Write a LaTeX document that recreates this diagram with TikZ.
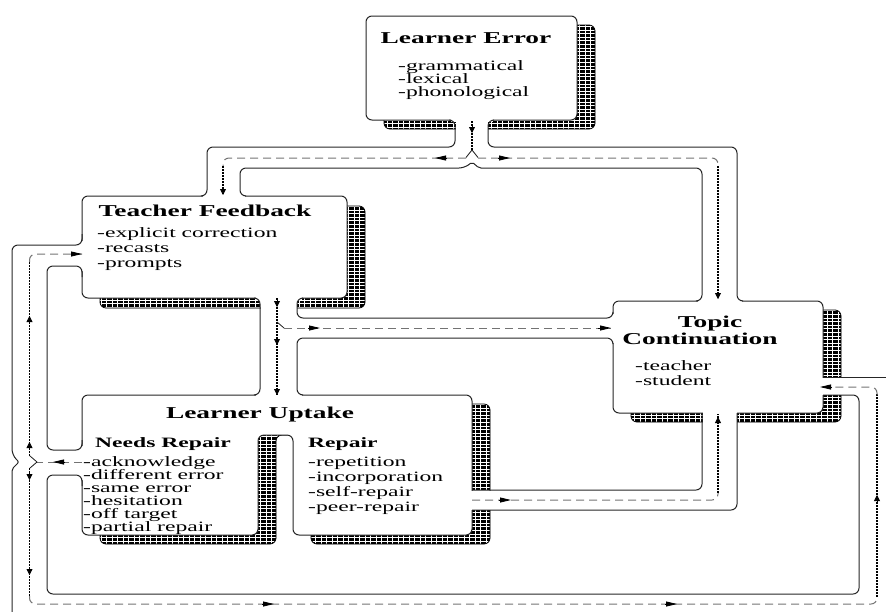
\documentclass[tikz,border=0pt]{standalone}
\usepackage{fontspec}
\setmainfont{Liberation Serif}[FakeStretch=1.65]
\usetikzlibrary{arrows.meta}
\begin{document}
\begin{tikzpicture}[x=1pt,y=-1pt,
  boxline/.style={draw=black!85,line width=1pt,fill=white,rounded corners=6pt},
  shadowline/.style={draw=black,line width=0.8pt,rounded corners=6pt},
  wall/.style={draw=black!85,line width=1pt,rounded corners=6pt},
  flowh/.style={draw=black!55,line width=1pt,dash pattern=on 8pt off 5pt},
  flowv/.style={draw=black,line width=1.1pt,dash pattern=on 1.6pt off 1.4pt},
  fork/.style={draw=black!90,line width=0.8pt},
  arrh/.style={-{Triangle[length=11pt,width=5pt]},line width=0.8pt,black},
  arrv/.style={-{Triangle[length=6pt,width=6pt]},line width=0.8pt,black},
  head/.style={font=\fontsize{16.6}{19}\selectfont\bfseries,inner sep=0pt,anchor=base},
  sub/.style={font=\fontsize{14.3}{16}\selectfont\bfseries,inner sep=0pt,anchor=base west},
  body/.style={font=\fontsize{14.3}{16}\selectfont,inner sep=0pt,anchor=base west},
]
\useasboundingbox (0,0) rectangle (886,611);

% ---------- shadows ----------
\begin{scope}
  \clip[rounded corners=6pt]
    (384,25) rectangle (595,129)
    (100,206) rectangle (365,308)
    (631,310) rectangle (841,422)
    (100,404) -- (490,404) -- (490,544) -- (311,544) -- (311,435) -- (276,435) -- (276,544) -- (100,544) -- cycle;
  \fill[black] (0,0) rectangle (886,611);
  \foreach \yy in {1,4.6,...,611} \draw[white,line width=0.4pt] (0,\yy) -- (886,\yy);
  \foreach \xx in {2,7.5,...,886} \draw[white,line width=0.4pt] (\xx,0) -- (\xx,611);
\end{scope}
\path[shadowline] (384,25) rectangle (595,129);
\path[shadowline] (100,206) rectangle (365,308);
\path[shadowline] (631,310) rectangle (841,422);
\path[shadowline] (100,404) -- (490,404) -- (490,544) -- (311,544) -- (311,435) -- (276,435) -- (276,544) -- (100,544) -- cycle;

% ---------- boxes ----------
\path[boxline] (366,16) rectangle (577,120);   % Learner Error
\path[boxline] (82,196) rectangle (347,298);   % Teacher Feedback
\path[boxline] (613,301) rectangle (823,413);  % Topic Continuation
\path[boxline] (82,395) -- (472,395) -- (472,535) -- (293,535) -- (293,435) -- (258,435) -- (258,535) -- (82,535) -- cycle; % Learner Uptake

% ---------- pipe mouths (erase edges / shadows) ----------
\fill[white] (450.5,118.5) rectangle (492.5,121.5);
\fill[white] (455.5,121) rectangle (487.5,131);
\fill[white] (202.5,194.5) rectangle (244.5,197.5);
\fill[white] (697.5,299.5) rectangle (741.5,302.5);
\fill[white] (80.5,240.5) rectangle (83.5,270.5);
\fill[white] (80.5,445.5) rectangle (83.5,479.5);
\fill[white] (255.5,296.5) rectangle (301.5,299.5);
\fill[white] (260.5,299) rectangle (296.5,312);
\fill[white] (255.5,393.5) rectangle (301.5,396.5);
\fill[white] (611.5,313.5) rectangle (614.5,342.5);
\fill[white] (702.5,411.5) rectangle (736.5,424);
\fill[white] (470.5,490.5) rectangle (492,509.5);
\fill[white] (821.5,377.5) rectangle (845,394.5);

% ---------- pipe walls ----------
\path[wall] (449,120) -- (455,120) -- (455,147) -- (207,147) -- (207,196) -- (201,196);
\path[wall] (494,120) -- (488,120) -- (488,147) -- (737,147) -- (737,301) -- (743,301);
\path[wall] (246,196) -- (240,196) -- (240,168) -- (465,168) [rounded corners=2pt] -- (472,162) -- (479,168) [rounded corners=6pt] -- (702,168) -- (702,301) -- (696,301);
\path[wall] (82,234) -- (82,245) -- (12,245) -- (12,455) [rounded corners=2pt] -- (19,462) -- (12,469) [sharp corners] -- (12,615);
\path[wall] (82,277) -- (82,266) -- (47,266) -- (47,450) -- (82,450) -- (82,440);
\path[wall] (82,486) -- (82,475) -- (47,475) -- (47,594) -- (859,594) -- (859,395) -- (823,395);
\path[wall] (823,377) -- (890,377);
\path[wall] (254,298) -- (260,298) -- (260,395) -- (254,395);
\path[wall] (303,298) -- (297,298) -- (297,318) -- (613,318) -- (613,312);
\path[wall] (613,344) -- (613,338) -- (297,338) -- (297,395) -- (303,395);
\path[wall] (472,490) -- (702,490) -- (702,413);
\path[wall] (472,510) -- (737,510) -- (737,413);

% ---------- flows ----------
\coordinate (leOut) at (472,121);
\coordinate (lsplit) at (472,150);
\draw[flowv] (leOut) -- (lsplit);
\draw[fork] (lsplit) -- (466,157.5);
\draw[fork] (lsplit) -- (478,157.5);
\draw[flowh,rounded corners=6pt] (466,158) -- (223,158) -- (223,166);
\draw[flowv] (223,166) -- (223,194);
\draw[flowh,rounded corners=6pt] (478,158) -- (718,158) -- (718,166);
\draw[flowv] (718,166) -- (718,298);
\draw[arrv] (472,126) -- (472,133);
\draw[arrh] (447,158) -- (435,158);
\draw[arrh] (498,158) -- (510,158);
\draw[arrv] (223,188) -- (223,195);
\draw[arrv] (718,292) -- (718,299);

\draw[flowv] (277,298) -- (277,395);
\draw[fork] (277,322) -- (284,328);
\draw[flowh] (284,328) -- (611,328);
\draw[arrv] (277,300) -- (277,307);
\draw[arrv] (277,338) -- (277,345);
\draw[arrv] (277,388) -- (277,395);
\draw[arrh] (308,328) -- (320,328);
\draw[arrh] (598,328) -- (611,328);

\draw[flowh] (82,462) -- (37,462);
\draw[fork] (37,462) -- (30,456);
\draw[fork] (37,462) -- (30,468);
\draw[flowv] (29.5,456) -- (29.5,261);
\draw[flowh,rounded corners=6pt] (29.5,262) -- (29.5,254) -- (82,254);
\draw[flowv] (29.5,468) -- (29.5,597);
\draw[flowh,rounded corners=6pt] (29.5,596) -- (29.5,604) -- (877,604) -- (877,596);
\draw[flowv] (877,597) -- (877,394);
\draw[flowh,rounded corners=6pt] (877,395) -- (877,387) -- (822,387);
\draw[arrh] (65,462) -- (53,462);
\draw[arrv] (29.5,323) -- (29.5,316);
\draw[arrv] (29.5,449) -- (29.5,442);
\draw[arrh] (71,254) -- (82,254);
\draw[arrv] (29.5,473) -- (29.5,480);
\draw[arrv] (29.5,568) -- (29.5,575);
\draw[arrh] (262,604) -- (274,604);
\draw[arrh] (665,604) -- (677,604);
\draw[arrv] (877,502) -- (877,495);
\draw[arrh] (832,387) -- (820,387);

\draw[flowh,rounded corners=6pt] (472,500) -- (718,500) -- (718,492);
\draw[flowv] (718,493) -- (718,414);
\draw[arrh] (499,500) -- (511,500);
\draw[arrv] (718,424) -- (718,417);

% ---------- texts ----------
\node[head] (leh) at (466,43) {Learner Error};
\foreach \t [count=\i] in {-grammatical,-lexical,-phonological}
  \node[body] (le\i) at (398,{70.5+13*(\i-1)}) {\t};

\node[head] (tfh) at (205,216) {Teacher Feedback};
\foreach \t [count=\i] in {-explicit correction,-recasts,-prompts}
  \node[body] (tf\i) at (97,{237+15*(\i-1)}) {\t};

\node[head] (luh) at (260,418) {Learner Uptake};
\node[sub] (nrh) at (95,447) {Needs Repair};
\node[sub] (rh) at (308,447) {Repair};
\foreach \t [count=\i] in {-acknowledge,-different error,-same error,-hesitation,-off target,-partial repair}
  \node[body] (nr\i) at (83,{466+13*(\i-1)}) {\t};
\foreach \t [count=\i] in {-repetition,-incorporation,-self-repair,-peer-repair}
  \node[body] (r\i) at (308,{466+15*(\i-1)}) {\t};

\node[head] (tch1) at (710,327) {Topic};
\node[head] (tch2) at (700,344) {Continuation};
\node[body] (tc1) at (635,370) {-teacher};
\node[body] (tc2) at (635,385) {-student};
\end{tikzpicture}
\end{document}
